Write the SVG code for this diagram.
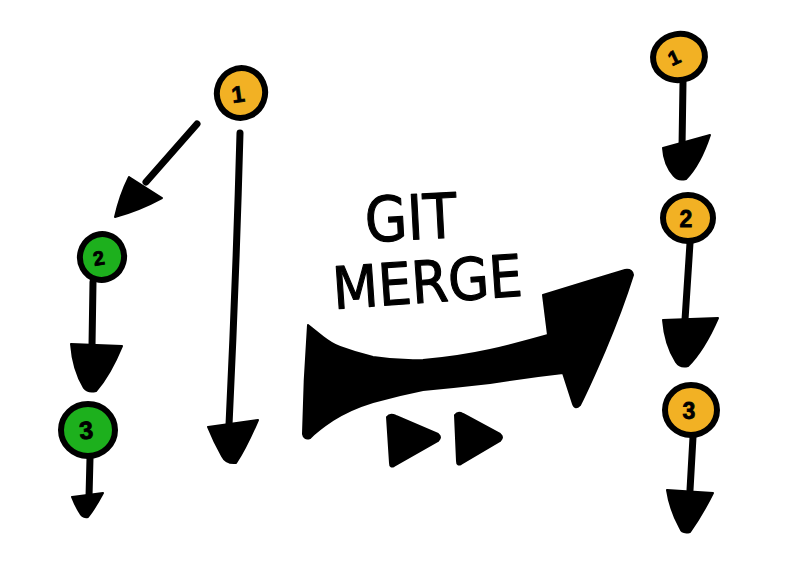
<svg xmlns="http://www.w3.org/2000/svg" width="803" height="579" viewBox="0 0 803 579">
<style>
.bg{fill:#ffffff}
.orange{fill:#F2B124;stroke:#000;stroke-width:6}
.green{fill:#1DB01D;stroke:#000;stroke-width:6}
.num{font-family:"Liberation Sans",Arial,sans-serif;font-weight:bold;font-size:23px;fill:#000;stroke:#000;stroke-width:0.8;text-anchor:middle}
.shaft{fill:none;stroke:#000;stroke-width:7;stroke-linecap:round}
.head{fill:#000;stroke:#000;stroke-width:2;stroke-linejoin:round}
.label{font-family:"DejaVu Sans","Liberation Sans",sans-serif;font-weight:normal;fill:#000;stroke:#000;stroke-width:1.2;stroke-linejoin:round}
</style>
<rect class="bg" x="0" y="0" width="803" height="579"/>

<g id="connectors">
  <!-- left: 1 -> 2 diagonal -->
  <path class="shaft" d="M197 124 L146 182"/>
  <path class="head" d="M129 177 L162 198 Q140 210 115 217 Q120 195 129 177 Z"/>
  <!-- left: 1 long down -->
  <path class="shaft" d="M240 133 Q236 280 229 425"/>
  <path class="head" d="M208 427 L258 420 Q246 448 236 463 Q226 464 222 456 Q214 442 208 427 Z"/>
  <!-- left: 2 -> 3 -->
  <path class="shaft" d="M93 282 L92 346"/>
  <path class="head" d="M71 344 L122 346 Q110 375 96 391 Q88 393 84 388 Q73 370 71 344 Z"/>
  <!-- left: below 3 -->
  <path class="shaft" d="M90 458 L89 497"/>
  <path class="head" d="M72 497 L103 493 Q95 508 88 517 Q82 518 80 513 Q75 505 72 497 Z"/>
  <!-- right: 1 -> 2 -->
  <path class="shaft" d="M683 82 L682 148"/>
  <path class="head" d="M663 148 L710 135 Q700 165 686 179 Q678 181 674 176 Q664 165 663 148 Z"/>
  <!-- right: 2 -> 3 -->
  <path class="shaft" d="M690 243 L685 320"/>
  <path class="head" d="M663 320 L718 318 Q704 350 688 366 Q680 368 676 362 Q665 345 663 320 Z"/>
  <!-- right: below 3 -->
  <path class="shaft" d="M693 437 L690 490"/>
  <path class="head" d="M667 490 L713 493 Q702 515 690 532 Q682 534 680 528 Q670 510 667 490 Z"/>
  <!-- merge arrow -->
  <path class="head" d="M308 325 Q318 333 323 337 Q332 344 340 347 Q356 353 373 357 Q398 361 423 360 Q458 357 490 350 Q520 343 548 335 L543 295 Q585 282 625 270 Q632 269 633 275 Q622 310 605 350 Q590 385 580 405 Q575 410 573 404 L563 373 Q527 377 490 383 Q455 387 423 390 Q398 395 373 402 Q350 409 333 420 Q318 430 310 438 Q304 440 303 434 Q304 380 308 325 Z"/>
  <!-- fast-forward triangles -->
  <path class="head" d="M387 417 Q390 413 396 416 L438 434 Q442 437 438 441 L394 466 Q390 468 390 463 Z"/>
  <path class="head" d="M455 415 Q458 411 463 414 L500 434 Q504 437 500 441 L461 464 Q457 466 457 461 Z"/>
</g>

<g id="node-left-1">
  <ellipse class="orange" cx="241" cy="93" rx="24" ry="25" transform="rotate(20 241 93)"/>
  <text class="num" x="239" y="102" transform="rotate(-8 239 102)">1</text>
</g>
<g id="node-left-2">
  <ellipse class="green" cx="102" cy="257" rx="22" ry="23" transform="rotate(15 102 257)"/>
  <text class="num" x="100" y="265" style="font-size:20px" transform="rotate(-10 100 265)">2</text>
</g>
<g id="node-left-3">
  <ellipse class="green" cx="88" cy="430" rx="27" ry="26"/>
  <text class="num" x="87" y="439" style="font-size:25px" transform="rotate(-5 87 439)">3</text>
</g>
<g id="node-right-1">
  <ellipse class="orange" cx="679" cy="57" rx="26" ry="23" transform="rotate(-10 679 57)"/>
  <text class="num" x="677" y="64" style="font-size:20px" transform="rotate(-25 677 64)">1</text>
</g>
<g id="node-right-2">
  <ellipse class="orange" cx="688" cy="218" rx="25" ry="23"/>
  <text class="num" x="686" y="227">2</text>
</g>
<g id="node-right-3">
  <ellipse class="orange" cx="691" cy="410" rx="26" ry="25"/>
  <text class="num" x="689" y="419">3</text>
</g>

<g id="label-git-merge">
  <text class="label" x="366" y="242" font-size="62" textLength="92" lengthAdjust="spacingAndGlyphs" transform="rotate(-3 366 242)">GIT</text>
  <text class="label" x="334" y="309" font-size="58" textLength="190" lengthAdjust="spacingAndGlyphs" transform="rotate(-4 334 309)">MERGE</text>
</g>
</svg>
